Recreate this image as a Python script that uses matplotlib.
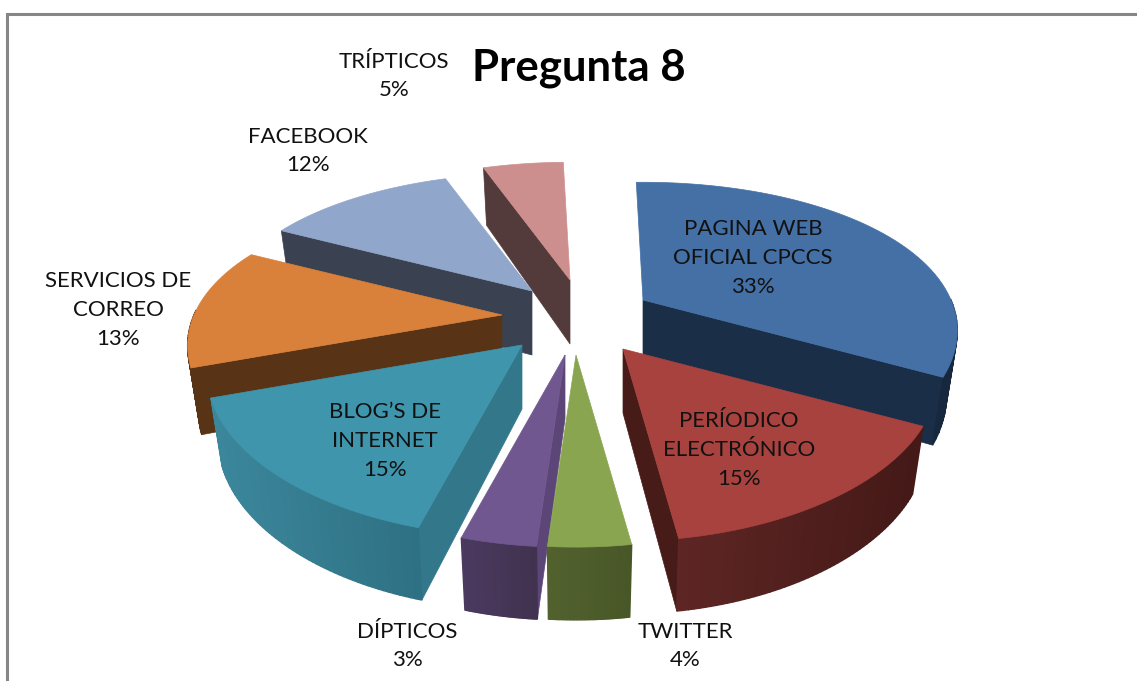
import numpy as np
import matplotlib
matplotlib.use("Agg")
import matplotlib.pyplot as plt
from matplotlib.patches import Polygon

categories = ["PAGINA WEB\nOFICIAL CPCCS", "PERÍODICO\nELECTRÓNICO", "TWITTER", "DÍPTICOS",
              "BLOG’S DE\nINTERNET", "SERVICIOS DE\nCORREO", "FACEBOOK", "TRÍPTICOS"]
values = [33.2, 14.9, 3.5, 3.2, 15.2, 13.0, 12.0, 5.0]

# colours: top, radial wall, rim left, rim right
top_colors = ["#4470a6", "#a8423f", "#89a550", "#71578f", "#3f95ac", "#d9813b", "#91a6cb", "#cd8f8e"]
side_colors = ["#1a2e48", "#471b18", "#4f5e2c", "#5c4677", "#33778a", "#583316", "#3a4252", "#533a3b"]
rim_left = ["#1a2e48", "#5e2624", "#52622e", "#4b3a60", "#3c879c", "#583316", "#3a4252", "#533a3b"]
rim_right = ["#16273e", "#441917", "#495728", "#41324f", "#2f7184", "#583316", "#3a4252", "#533a3b"]

# slice offsets from pie centre, pixels
offsets = [(75, -30), (55, 19), (8, 25), (-3, 25), (-46, 15), (-66, -15), (-36, -39), (2, -50)]
label_pos = [(753, 258), (739, 450), (685, 646), (407, 646), (385, 441), (118, 310), (308, 151), (394, 76)]

cx, cy = 568, 330
rx, ry = 308, 146
depth = 64
shrink = 0.965
start = np.radians(-1.5)


def rim(a):
    x, y = np.sin(a), np.cos(a)
    return x * rx / (1 + 0.2 * y), -y * ry / (1 + 0.24 * y), depth / (1 + 0.12 * y)


fig = plt.figure(figsize=(11.37, 6.81), dpi=100)
ax = fig.add_axes([0, 0, 1, 1])
ax.set_xlim(0, 1137)
ax.set_ylim(681, 0)
ax.axis("off")

# chart frame
ax.plot([7, 7, 1137], [681, 14, 14], color="#868686", lw=2.2, solid_joinstyle="miter")

edges = start + np.concatenate([[0], np.cumsum(values)]) / sum(values) * 2 * np.pi

# back to front
order = [7, 6, 5, 0, 4, 1, 3, 2]
for i in order:
    a0, a1 = edges[i], edges[i + 1]
    ax0, ay0 = cx + offsets[i][0], cy + offsets[i][1]
    angles = np.linspace(a0, a1, 60)
    px, py, pz = rim(angles)
    bx = ax0 + px * shrink
    px = px + ax0
    py = py + ay0

    # radial walls facing the viewer
    if a1 < np.pi:
        j = -1
    elif a0 > np.pi:
        j = 0
    else:
        j = None
    if j is not None:
        ax.add_patch(Polygon([(ax0, ay0), (px[j], py[j]), (bx[j], py[j] + pz[j]), (ax0, ay0 + depth)],
                             fc=side_colors[i], ec=side_colors[i], lw=0.5))

    # outer wall, shaded strip by strip, each strip laps over the next
    c0 = np.array(matplotlib.colors.to_rgb(rim_left[i]))
    c1 = np.array(matplotlib.colors.to_rgb(rim_right[i]))
    strips = list(range(len(angles) - 1))
    if px[0] > px[-1]:
        strips = strips[::-1]
    for k in strips:
        if np.cos(angles[k]) < 0.02:
            n = k + 1
            t = (px[k] - px.min()) / (px.max() - px.min())
            col = c0 + (c1 - c0) * t
            ax.add_patch(Polygon([(px[k], py[k]), (px[n], py[n]),
                                  (bx[n], py[n] + pz[n]), (bx[k], py[k] + pz[k])],
                                 fc=col, ec=col, lw=1.0))

    # top face
    ax.add_patch(Polygon(np.vstack([[ax0, ay0], np.column_stack([px, py])]),
                         fc=top_colors[i], ec=top_colors[i], lw=0.5))

for i, name in enumerate(categories):
    ax.text(label_pos[i][0], label_pos[i][1], "%s\n%d%%" % (name, round(values[i])), ha="center", va="center",
            family="Lato", fontsize=16, color="#111111", linespacing=1.55)

ax.text(579, 68, "Pregunta 8", ha="center", va="center", family="Lato", fontweight="bold",
        fontsize=31.5, color="black")

fig.savefig("out.png", dpi=100)
